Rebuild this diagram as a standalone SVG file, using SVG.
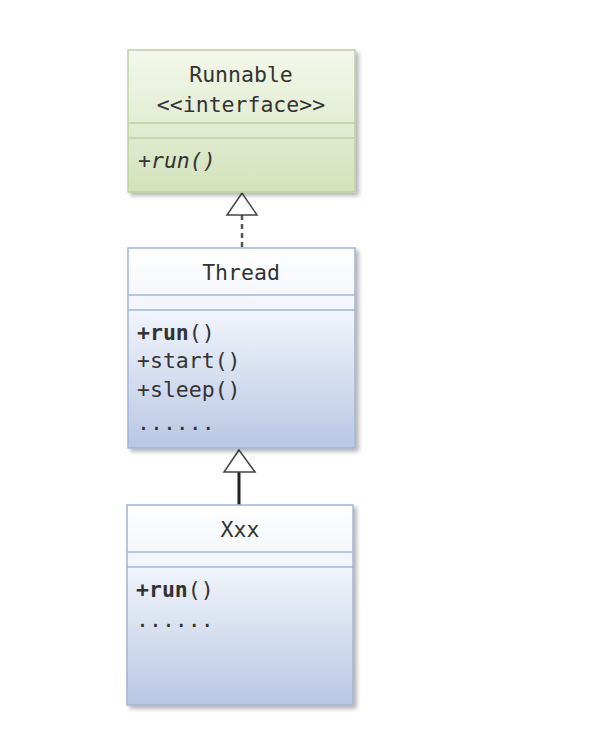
<svg xmlns="http://www.w3.org/2000/svg" width="602" height="756" viewBox="0 0 602 756">
<defs>
<linearGradient id="gGreen" x1="0" y1="0" x2="0" y2="1">
<stop offset="0" stop-color="#f4f8ec"/>
<stop offset="1" stop-color="#d3e2bb"/>
</linearGradient>
<linearGradient id="gBlue" x1="0" y1="0" x2="0" y2="1">
<stop offset="0" stop-color="#ffffff"/>
<stop offset="0.3" stop-color="#f2f5fb"/>
<stop offset="1" stop-color="#b9c7e4"/>
</linearGradient>
<filter id="sh" x="-10%" y="-10%" width="130%" height="130%">
<feGaussianBlur in="SourceAlpha" stdDeviation="2"/>
<feOffset dx="3" dy="3"/>
<feComponentTransfer><feFuncA type="linear" slope="0.3"/></feComponentTransfer>
<feMerge><feMergeNode/><feMergeNode in="SourceGraphic"/></feMerge>
</filter>
</defs>
<style>
text{font-family:"DejaVu Sans Mono","Liberation Mono",monospace;font-size:21.5px;fill:#333333}
.c{text-anchor:middle}
.gb{stroke:#bdd0a3;stroke-width:1.5}
.bb{stroke:#a3b4d8;stroke-width:1.5}
.b{font-weight:bold}
</style>
<rect width="602" height="756" fill="#ffffff"/>
<g id="connectors">
<line x1="242" y1="215" x2="242" y2="248" stroke="#555555" stroke-width="2.5" stroke-dasharray="5,4"/>
<polygon points="242,193 227,215 257,215" fill="#ffffff" stroke="#444444" stroke-width="1.5"/>
<line x1="239" y1="472" x2="239" y2="505" stroke="#222222" stroke-width="3"/>
<polygon points="239,450 224,472 255,472" fill="#ffffff" stroke="#444444" stroke-width="1.5"/>
</g>
<g id="runnable">
<rect x="128" y="50" width="227" height="142" fill="url(#gGreen)" class="gb" filter="url(#sh)"/>
<line x1="128" y1="123" x2="355" y2="123" class="gb"/>
<line x1="128" y1="138" x2="355" y2="138" class="gb"/>
<text x="241" y="82" class="c">Runnable</text>
<text x="241" y="112" class="c">&lt;&lt;interface&gt;&gt;</text>
<text x="138" y="168" font-style="italic">+run()</text>
</g>
<g id="thread">
<rect x="128" y="248" width="227" height="200" fill="url(#gBlue)" class="bb" filter="url(#sh)"/>
<line x1="128" y1="295" x2="355" y2="295" class="bb"/>
<line x1="128" y1="310" x2="355" y2="310" class="bb"/>
<text x="241" y="280" class="c">Thread</text>
<text x="137" y="340"><tspan class="b">+run</tspan>()</text>
<text x="137" y="368">+start()</text>
<text x="137" y="397">+sleep()</text>
<text x="137" y="430">......</text>
</g>
<g id="xxx">
<rect x="127" y="505" width="226" height="200" fill="url(#gBlue)" class="bb" filter="url(#sh)"/>
<line x1="127" y1="552" x2="353" y2="552" class="bb"/>
<line x1="127" y1="567" x2="353" y2="567" class="bb"/>
<text x="240" y="537" class="c">Xxx</text>
<text x="136" y="597"><tspan class="b">+run</tspan>()</text>
<text x="136" y="627">......</text>
</g>
</svg>
